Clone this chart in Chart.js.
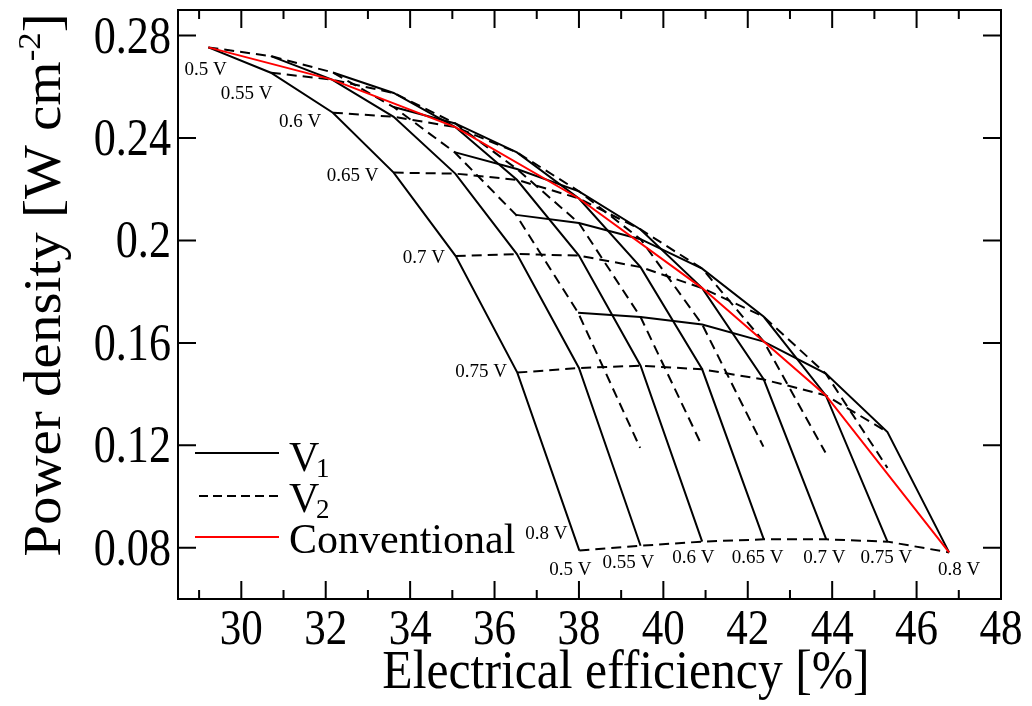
<!DOCTYPE html>
<html>
<head>
<meta charset="utf-8">
<script src="https://cdn.jsdelivr.net/npm/chart.js@4.4.1/dist/chart.umd.min.js"></script>
<style>
  html, body { margin: 0; padding: 0; background: #fff; }
  #wrap { width: 1032px; height: 706px; }
</style>
</head>
<body>
<div id="wrap"><canvas id="chart" width="1032" height="706"></canvas></div>
<script>
// ── Data ───────────────────────────────────────────────────────────────────
// Grid rows = stage-1 voltage V1, columns = stage-2 voltage V2
const v1Levels = [0.5, 0.55, 0.6, 0.65, 0.7, 0.75, 0.8, 0.85];
const v2Levels = [0.5, 0.55, 0.6, 0.65, 0.7, 0.75, 0.8];

// Electrical efficiency [%]
const effGrid = [
  [29.22, 30.70, 32.17, 33.61, 35.08, 36.54, 38.01],
  [30.70, 32.15, 33.61, 35.07, 36.53, 38.00, 39.46],
  [32.17, 33.61, 35.07, 36.53, 38.00, 39.46, 40.92],
  [33.61, 35.07, 36.53, 38.00, 39.46, 40.92, 42.38],
  [35.05, 36.53, 38.00, 39.46, 40.92, 42.38, 43.86],
  [36.51, 38.00, 39.46, 40.92, 42.38, 43.85, 45.31],
  [37.98, 39.46, 40.92, 42.38, 43.85, 45.31, 46.77],
  [39.45, 40.91, 42.37, 43.84, 45.31, null,  null ],
];

// Power density [W cm-2]
const powerGrid = [
  [0.2754, 0.2655, 0.2499, 0.2265, 0.1939, 0.1484, 0.0789],
  [0.2720, 0.2628, 0.2483, 0.2261, 0.1947, 0.1502, 0.0808],
  [0.2656, 0.2576, 0.2443, 0.2237, 0.1941, 0.1511, 0.0824],
  [0.2521, 0.2457, 0.2344, 0.2164, 0.1896, 0.1497, 0.0833],
  [0.2345, 0.2279, 0.2192, 0.2043, 0.1814, 0.1457, 0.0833],
  [0.2100, 0.2068, 0.2005, 0.1890, 0.1702, 0.1395, 0.0824],
  [0.1718, 0.1701, 0.1672, 0.1605, 0.1480, 0.1252, 0.0782],
  [0.1190, 0.1200, 0.1195, 0.1172, 0.1112, null,   null  ],
];

// Conventional (single voltage) operation
const convEff   = [29.22, 32.15, 35.07, 38.00, 40.92, 43.85, 46.77];
const convPower = [0.2754, 0.2628, 0.2443, 0.2164, 0.1814, 0.1395, 0.0782];

// Axis ticks
const xMajorTicks = [30, 32, 34, 36, 38, 40, 42, 44, 46, 48];
const xMinorTicks = [29, 31, 33, 35, 37, 39, 41, 43, 45, 47];
const yTicks      = [0.08, 0.12, 0.16, 0.2, 0.24, 0.28];

// Voltage labels on the left edge (V2) and along the bottom (V1)
const leftLabels   = ['0.5 V', '0.55 V', '0.6 V', '0.65 V', '0.7 V', '0.75 V', '0.8 V'];
const bottomLabels = ['0.5 V', '0.55 V', '0.6 V', '0.65 V', '0.7 V', '0.75 V', '0.8 V'];

// ── Layout / style ─────────────────────────────────────────────────────────
const FONT = '"Liberation Serif", "Times New Roman", serif';
const DASH = [10, 6];
// pixel offsets of label text (left edge, baseline) from its grid vertex
const LEFT_OFFS   = [[-24, 28], [-50, 26], [-54, 14], [-67, 8], [-53, 7], [-62, 4], [-54, -12]];
const BOTTOM_OFFS = [[-30, 24], [-38, 22], [-30, 21], [-32, 24], [-23, 24], [-27, 21], [-11, 23]];

// ── Datasets ───────────────────────────────────────────────────────────────
function linePoints(pairs) {
  return pairs.filter(([x, y]) => x != null && y != null).map(([x, y]) => ({ x, y }));
}

const datasets = [];

datasets.push({
  label: 'Conventional',
  data: linePoints(convEff.map((x, i) => [x, convPower[i]])),
  borderColor: '#ff0000',
  borderWidth: 2,
  order: 0,
});

// solid: constant V1, V2 varies
for (let i = 0; i < 7; i++) {
  datasets.push({
    label: 'V1 = ' + v1Levels[i],
    data: linePoints(v2Levels.map((_, j) => [effGrid[i][j], powerGrid[i][j]])),
    borderColor: '#000',
    borderWidth: 2,
    order: 1,
  });
}

// dashed: constant V2, V1 varies
v2Levels.forEach((v2, j) => {
  datasets.push({
    label: 'V2 = ' + v2,
    data: linePoints(v1Levels.map((_, i) => [effGrid[i][j], powerGrid[i][j]])),
    borderColor: '#000',
    borderWidth: 2,
    borderDash: DASH,
    order: 1,
  });
});

// narrow text, like the squeezed lettering of the original figure
function squeezedText(ctx, text, x, y, sx, align) {
  const w = ctx.measureText(text).width * sx;
  const left = align === 'center' ? x - w / 2 : align === 'right' ? x - w : x;
  ctx.save();
  ctx.translate(left, y);
  ctx.scale(sx, 1);
  ctx.textAlign = 'left';
  ctx.fillText(text, 0, 0);
  ctx.restore();
}

// ── Decorations plugin ─────────────────────────────────────────────────────
const decorations = {
  id: 'decorations',
  afterDatasetsDraw(chart) {
    const { ctx, chartArea: a, scales: { x, y } } = chart;
    ctx.save();
    ctx.strokeStyle = '#000';
    ctx.fillStyle = '#000';
    ctx.lineWidth = 2;
    ctx.setLineDash([]);
    ctx.textBaseline = 'alphabetic';

    // frame
    ctx.strokeRect(a.left, a.top, a.right - a.left, a.bottom - a.top);

    // inward ticks
    ctx.beginPath();
    const xTick = (v, len) => {
      const px = x.getPixelForValue(v);
      ctx.moveTo(px, a.bottom); ctx.lineTo(px, a.bottom - len);
      ctx.moveTo(px, a.top);    ctx.lineTo(px, a.top + len);
    };
    xMajorTicks.forEach(v => xTick(v, 18));
    xMinorTicks.forEach(v => xTick(v, 9));
    yTicks.forEach(v => {
      const py = y.getPixelForValue(v);
      ctx.moveTo(a.left, py);  ctx.lineTo(a.left + 18, py);
      ctx.moveTo(a.right, py); ctx.lineTo(a.right - 18, py);
    });
    ctx.stroke();

    // tick labels
    ctx.font = `50px ${FONT}`;
    xMajorTicks.forEach(v => squeezedText(ctx, String(v), x.getPixelForValue(v), a.bottom + 45, 0.86, 'center'));
    ctx.font = `52px ${FONT}`;
    yTicks.forEach(v => squeezedText(ctx, String(+v.toFixed(2)), a.left - 7, y.getPixelForValue(v) + 17, 0.85, 'right'));

    // x axis title
    ctx.font = `54px ${FONT}`;
    squeezedText(ctx, 'Electrical efficiency [%]', 626, 688, 0.92, 'center');

    // y axis title (rotated, with superscript)
    ctx.save();
    ctx.translate(60, 285);
    ctx.rotate(-Math.PI / 2);
    ctx.scale(1, 0.92);
    const big = `57px ${FONT}`, sup = `35px ${FONT}`;
    const parts = [['Power density [W cm', big, 0], ['-2', sup, -22], [']', big, 0]];
    let total = 0;
    parts.forEach(p => { ctx.font = p[1]; total += ctx.measureText(p[0]).width; });
    let cx = -total / 2;
    ctx.textAlign = 'left';
    parts.forEach(p => {
      ctx.font = p[1];
      ctx.fillText(p[0], cx, p[2]);
      cx += ctx.measureText(p[0]).width;
    });
    ctx.restore();

    // voltage labels
    ctx.font = `19px ${FONT}`;
    ctx.textAlign = 'left';
    leftLabels.forEach((t, j) => {
      const px = x.getPixelForValue(effGrid[0][j]);
      const py = y.getPixelForValue(powerGrid[0][j]);
      ctx.fillText(t, px + LEFT_OFFS[j][0], py + LEFT_OFFS[j][1]);
    });
    bottomLabels.forEach((t, i) => {
      const px = x.getPixelForValue(effGrid[i][6]);
      const py = y.getPixelForValue(powerGrid[i][6]);
      ctx.fillText(t, px + BOTTOM_OFFS[i][0], py + BOTTOM_OFFS[i][1]);
    });

    // legend
    ctx.lineWidth = 2;
    ctx.beginPath(); ctx.moveTo(195, 453); ctx.lineTo(279, 453); ctx.stroke();
    ctx.setLineDash([9, 5]);
    ctx.beginPath(); ctx.moveTo(199, 496); ctx.lineTo(279, 496); ctx.stroke();
    ctx.setLineDash([]);
    ctx.strokeStyle = '#ff0000';
    ctx.beginPath(); ctx.moveTo(195, 537); ctx.lineTo(279, 537); ctx.stroke();

    ctx.font = `42px ${FONT}`;
    ctx.fillText('V', 289, 471);
    ctx.fillText('V', 289, 512);
    ctx.fillText('Conventional', 289, 553);
    ctx.font = `27px ${FONT}`;
    ctx.fillText('1', 316, 477);
    ctx.fillText('2', 316, 518);

    ctx.restore();
  }
};

// ── Chart ──────────────────────────────────────────────────────────────────
new Chart(document.getElementById('chart'), {
  type: 'scatter',
  data: { datasets },
  options: {
    responsive: false,
    animation: false,
    showLine: true,
    layout: { padding: { left: 178, right: 31, top: 10, bottom: 107 } },
    elements: {
      point: { radius: 0, hoverRadius: 0 },
      line: { tension: 0, fill: false },
    },
    plugins: { legend: { display: false }, tooltip: { enabled: false } },
    scales: {
      x: { type: 'linear', min: 28.5, max: 48, display: false },
      y: { type: 'linear', min: 0.06, max: 0.29, display: false },
    },
  },
  plugins: [decorations],
});
</script>
</body>
</html>
